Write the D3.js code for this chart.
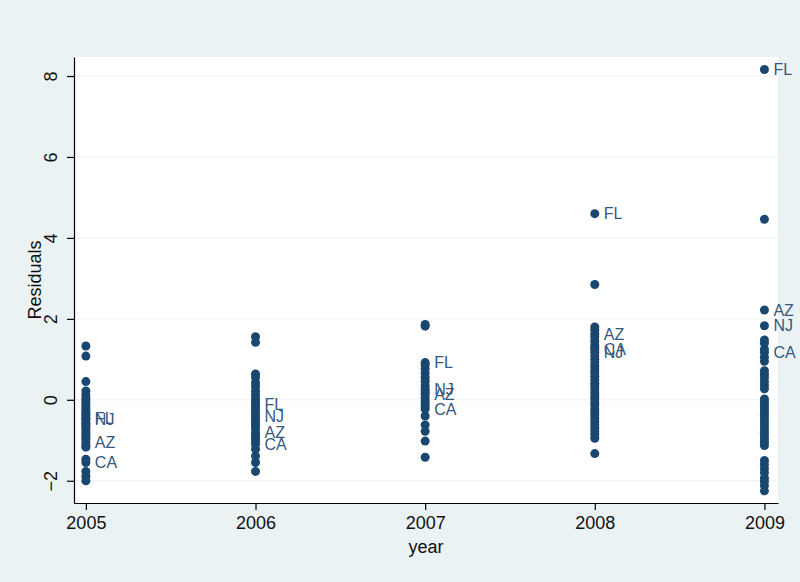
<!DOCTYPE html>
<meta charset='utf-8'>
<style>
body { margin: 0; background: #eaf2f3; }
svg { display: block; }
text { font-family: Arial, 'Liberation Sans', sans-serif; }
.tick text { font-size: 18px; fill: #111; }
.axis path, .axis line { stroke: #000; stroke-width: 1.2px; }
.grid line { stroke: #eaf2f3; stroke-width: 1px; }
.label { font-size: 16px; fill: #34587e; }
.title { font-size: 18px; fill: #111; }
</style>
<div id='chart'><svg></svg></div>
<script src="https://d3js.org/d3.v7.min.js"></script>
<script>
// residuals by year (unlabelled states)
const years = [2005, 2006, 2007, 2008, 2009];
const resid2005 = [1.33, 1.08, 0.45, 0.22, 0.12, 0.04, -0.03, -0.1, -0.16, -0.22, -0.28, -0.33, -0.38,
  -0.52, -0.58, -0.63, -0.68, -0.74, -0.8, -0.86, -0.92, -0.97, -1.12, -1.17, -1.47, -1.77, -1.89, -2.0];
const resid2006 = [1.56, 1.42, 0.64, 0.55, 0.42, 0.33, 0.22, 0.12, 0.03, -0.04, -0.18, -0.25, -0.32,
  -0.48, -0.55, -0.62, -0.7, -0.88, -0.95, -1.02, -1.22, -1.39, -1.55, -1.77];
const resid2007 = [1.86, 1.82, 0.86, 0.76, 0.66, 0.55, 0.46, 0.35, 0.2, 0.05, -0.03, -0.1, -0.17,
  -0.4, -0.62, -0.78, -1.02, -1.42];
const resid2008 = [2.85, 1.8, 1.72, 1.55, 1.46, 1.36, 1.3, 1.08, 1.0, 0.91, 0.83, 0.74, 0.67, 0.58,
  0.5, 0.41, 0.34, 0.27, 0.18, 0.1, 0.03, -0.06, -0.13, -0.22, -0.3, -0.37, -0.46, -0.54, -0.62,
  -0.7, -0.79, -0.86, -0.95, -1.33];
const resid2009 = [4.46, 1.48, 1.4, 1.25, 1.05, 0.95, 0.72, 0.63, 0.55, 0.45, 0.36, 0.27, 0.02,
  -0.06, -0.14, -0.22, -0.3, -0.38, -0.46, -0.55, -0.63, -0.72, -0.8, -0.88, -0.97, -1.05, -1.13,
  -1.5, -1.6, -1.7, -1.8, -1.93, -2.02, -2.12, -2.25];
const residOther = [resid2005, resid2006, resid2007, resid2008, resid2009];

// labelled states, one value per year
const states = ['FL', 'NJ', 'AZ', 'CA'];
const flResid = [-0.45, -0.11, 0.92, 4.6, 8.16];
const njResid = [-0.47, -0.4, 0.26, 1.17, 1.83];
const azResid = [-1.05, -0.8, 0.14, 1.62, 2.22];
const caResid = [-1.55, -1.1, -0.23, 1.24, 1.17];
const stateResid = [flResid, njResid, azResid, caResid];

const yTicks = [-2, 0, 2, 4, 6, 8];

const width = 800, height = 582;
const plotLeft = 74, plotRight = 778, plotTop = 57, plotBottom = 503;

const svg = d3.select('svg').attr('width', width).attr('height', height);

svg.append('rect')
  .attr('x', plotLeft).attr('y', plotTop)
  .attr('width', plotRight - plotLeft).attr('height', plotBottom - plotTop)
  .attr('fill', '#fff');

const x = d3.scaleLinear().domain([2004.93, 2009.08]).range([plotLeft, plotRight]);
const y = d3.scaleLinear().domain([-2.55, 8.47]).range([plotBottom, plotTop]);

svg.append('g')
  .attr('class', 'grid')
  .selectAll('line')
  .data(yTicks)
  .join('line')
  .attr('x1', plotLeft).attr('x2', plotRight)
  .attr('y1', d => y(d)).attr('y2', d => y(d));

const points = [];
years.forEach((yr, i) => {
  residOther[i].forEach(v => points.push({year: yr, value: v}));
  stateResid.forEach(arr => points.push({year: yr, value: arr[i]}));
});

svg.append('g')
  .selectAll('circle')
  .data(points)
  .join('circle')
  .attr('cx', d => x(d.year))
  .attr('cy', d => y(d.value))
  .attr('r', 4.5)
  .attr('fill', '#1a476f');

const labels = [];
states.forEach((s, j) => {
  years.forEach((yr, i) => labels.push({year: yr, state: s, value: stateResid[j][i]}));
});

svg.append('g')
  .selectAll('text')
  .data(labels)
  .join('text')
  .attr('class', 'label')
  .attr('x', d => x(d.year) + 9)
  .attr('y', d => y(d.value))
  .attr('dy', '0.36em')
  .text(d => d.state);

const yAxis = svg.append('g')
  .attr('class', 'axis')
  .attr('transform', `translate(${plotLeft},0)`)
  .call(d3.axisLeft(y).tickValues(yTicks).tickFormat(d3.format('d')).tickSize(7).tickSizeOuter(0));

yAxis.selectAll('.tick text')
  .attr('x', 0)
  .attr('dy', 0)
  .attr('text-anchor', 'middle')
  .attr('transform', 'translate(-17,0) rotate(-90)');

svg.append('g')
  .attr('class', 'axis')
  .attr('transform', `translate(0,${plotBottom})`)
  .call(d3.axisBottom(x).tickValues(years).tickFormat(d3.format('d')).tickSize(7).tickSizeOuter(0).tickPadding(6));

svg.selectAll('.axis text').attr('fill', '#111').style('font-size', '18px');

svg.append('text')
  .attr('class', 'title')
  .attr('text-anchor', 'middle')
  .attr('transform', `translate(41,${(plotTop + plotBottom) / 2}) rotate(-90)`)
  .text('Residuals');

svg.append('text')
  .attr('class', 'title')
  .attr('text-anchor', 'middle')
  .attr('x', (plotLeft + plotRight) / 2)
  .attr('y', 553)
  .text('year');
</script>
